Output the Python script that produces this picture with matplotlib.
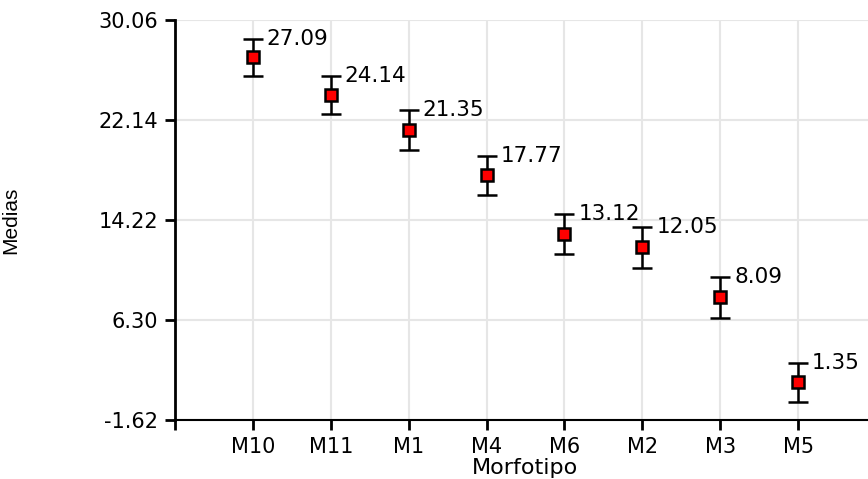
import numpy as np
from matplotlib import pyplot as plt
import matplotlib
matplotlib.rcParams.update({'font.family': 'DejaVu Sans', 'font.size': 15})

morfotipos = ['M10', 'M11', 'M1', 'M4', 'M6', 'M2', 'M3', 'M5']
medias = [27.09, 24.14, 21.35, 17.77, 13.12, 12.05, 8.09, 1.35]
errores = [1.5, 1.5, 1.55, 1.55, 1.6, 1.6, 1.6, 1.55]
yticks = [-1.62, 6.30, 14.22, 22.14, 30.06]

fig = plt.figure(figsize=(8.68, 4.79), dpi=100)
# the right edge of the plot runs past the figure, as in the original
ax = fig.add_axes([175/868, 1 - 420/479, 701/868, 400/479])

x = np.arange(1, len(morfotipos) + 1)
ax.errorbar(x, medias, yerr=errores, fmt='none', ecolor='black', elinewidth=1.8,
            capsize=7, capthick=1.8, zorder=3)
ax.plot(x, medias, ls='none', marker='s', ms=9, mfc='red', mec='black', mew=1.8, zorder=4)
for xi, m, e in zip(x, medias, errores):
    ax.annotate(f'{m:.2f}', (xi, m + e), xytext=(10, 0), textcoords='offset points',
                ha='left', va='center', fontsize=15.5)

ax.set_xlim(0, 9)
ax.set_ylim(yticks[0], yticks[-1])
ax.set_xticks([0] + list(x), [''] + morfotipos)
ax.set_yticks(yticks, [f'{t:.2f}' for t in yticks])
ax.grid(True, color='#e6e6e6', lw=1.5)
ax.set_axisbelow(True)
for s in ['top', 'right']:
    ax.spines[s].set_visible(False)
ax.spines['left'].set_linewidth(2)
ax.spines['bottom'].set_linewidth(1.5)
ax.tick_params(axis='y', length=7, width=2, pad=5)
ax.tick_params(axis='x', length=7, width=2, pad=5)
ax.set_xlabel('Morfotipo', fontsize=16, labelpad=1)
ax.set_ylabel('Medias', fontsize=15, family='Liberation Sans')
ax.yaxis.set_label_coords(-155/701, 0.5)

fig.savefig('out.png')
